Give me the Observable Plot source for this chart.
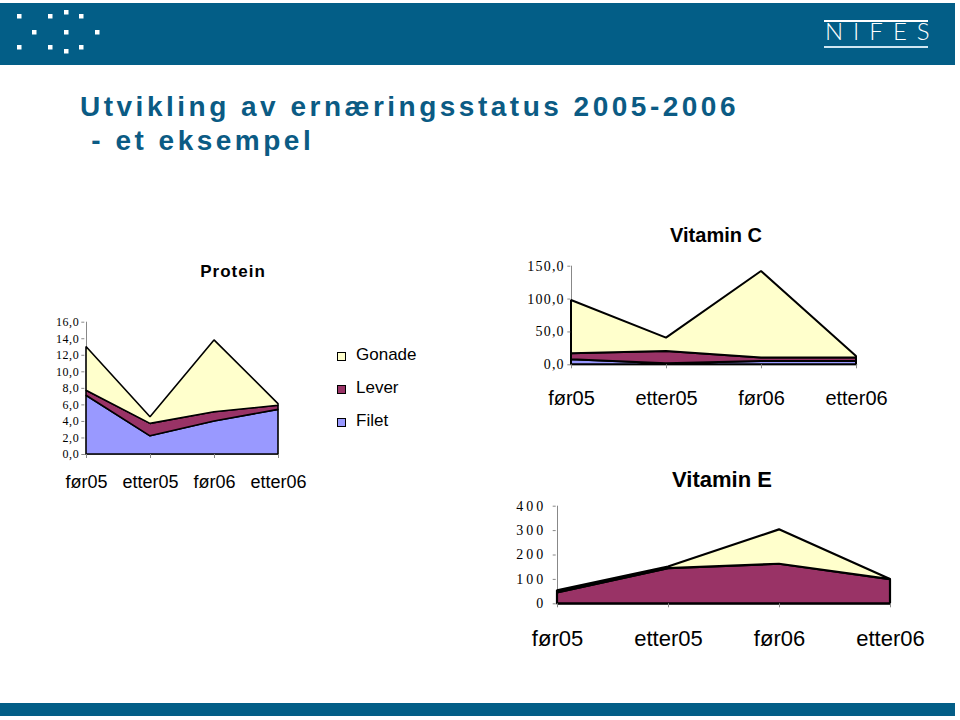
<!DOCTYPE html>
<html><head><meta charset="utf-8">
<script src="https://cdn.jsdelivr.net/npm/d3@7"></script>
<script src="https://cdn.jsdelivr.net/npm/@observablehq/plot@0.6"></script>
<style>
body{margin:0;background:#fff;}
#page{position:relative;width:960px;height:720px;overflow:hidden;font-family:"Liberation Sans",Arial,sans-serif;background:#fff;}
.abs{position:absolute;}
.bar{background:#035E87;}
.ctitle{position:absolute;width:200px;text-align:center;font-weight:bold;color:#000;white-space:nowrap;}
.leg{position:absolute;font-size:17px;line-height:17px;color:#000;}
.sw{position:absolute;width:7px;height:7px;border:1px solid #000;}
.chart{position:absolute;}
.chart svg{overflow:visible;}
#protein g[aria-label="y-axis tick label"] text{letter-spacing:0.6px;}
#vitc g[aria-label="y-axis tick label"] text{letter-spacing:1.2px;}
#vite g[aria-label="y-axis tick label"] text{letter-spacing:3px;}
</style></head><body>
<div id="page">
  <div class="abs bar" style="left:0;top:3px;width:955px;height:62px;"></div>
  <svg class="abs" style="left:0;top:0" width="120" height="66">
    <g fill="#fff">
      <rect x="17" y="14" width="4.5" height="4.5"/><rect x="48" y="14" width="4.5" height="4.5"/><rect x="64" y="10" width="4.5" height="4.5"/><rect x="79" y="14" width="4.5" height="4.5"/>
      <rect x="32" y="30" width="4.5" height="4.5"/><rect x="64" y="30" width="4.5" height="4.5"/><rect x="95" y="30" width="4.5" height="4.5"/>
      <rect x="17" y="45" width="4.5" height="4.5"/><rect x="48" y="45" width="4.5" height="4.5"/><rect x="64" y="49" width="4.5" height="4.5"/><rect x="79" y="45" width="4.5" height="4.5"/>
    </g>
  </svg>
  <div class="abs" style="left:824px;top:20px;width:104px;height:1.5px;background:#fff;"></div>
  <div class="abs" style="left:824px;top:46px;width:104px;height:1.5px;background:#cfe6f2;"></div>
  <div class="abs" style="left:825px;top:18.7px;font-family:Lato,'DejaVu Sans',sans-serif;font-weight:300;font-size:24px;line-height:24px;letter-spacing:10px;color:#fff;">NIFES</div>
  <div class="abs" style="left:80px;top:90px;font-weight:bold;font-size:28px;line-height:34px;letter-spacing:3.5px;color:#0B5B84;white-space:pre;">Utvikling av ernæringsstatus 2005-2006
 - et eksempel</div>

  <div class="ctitle" style="left:133px;top:262.6px;font-size:17px;line-height:17px;letter-spacing:1px;">Protein</div>
  <div class="ctitle" style="left:616px;top:225px;font-size:20px;line-height:20px;">Vitamin C</div>
  <div class="ctitle" style="left:622px;top:469.4px;font-size:22px;line-height:22px;">Vitamin E</div>

  <div id="legend"></div>
  <div class="chart" id="protein"></div>
  <div class="chart" id="vitc"></div>
  <div class="chart" id="vite"></div>

  <div class="abs bar" style="left:0;top:703px;width:955px;height:13px;"></div>
</div>
<script>
// ---- data ----
const categories = ["før05", "etter05", "før06", "etter06"];
const series = ["Filet", "Lever", "Gonade"];
const seriesColors = ["#9999FF", "#993366", "#FFFFCC"];
const legendOrder = ["Gonade", "Lever", "Filet"];

const proteinFilet  = [7.1, 2.2, 4.0, 5.4];
const proteinLever  = [0.6, 1.5, 1.1, 0.5];
const proteinGonade = [5.3, 0.8, 8.7, 0.2];
const proteinTicks  = [0, 2, 4, 6, 8, 10, 12, 14, 16];

const vitCFilet  = [7.6, 1.5, 5.0, 5.0];
const vitCLever  = [9.2, 18.8, 5.5, 5.5];
const vitCGonade = [81.0, 20.2, 131.5, 2.2];
const vitCTicks  = [0, 50, 100, 150];

const vitEFilet  = [0, 0, 0, 0];
const vitELever  = [45, 144, 162, 99];
const vitEGonade = [8, 7, 141, 1];
const vitETicks  = [0, 100, 200, 300, 400];

function rows(filet, lever, gonade) {
  const vals = {Filet: filet, Lever: lever, Gonade: gonade};
  const out = [];
  for (const s of series) categories.forEach((c, i) => out.push({cat: c, series: s, value: vals[s][i]}));
  return out;
}
const comma1 = d => d3.format(".1f")(d).replace(".", ",");

function chart(el, cfg) {
  const svg = Plot.plot({
    width: cfg.width, height: cfg.height,
    marginLeft: cfg.ml, marginRight: cfg.mr, marginTop: cfg.mt, marginBottom: cfg.mb,
    style: {background: "transparent", color: "#000"},
    x: {type: "point", domain: categories, padding: 0, label: null},
    y: {domain: cfg.yDomain, label: null},
    color: {domain: series, range: seriesColors},
    marks: [
      Plot.ruleY([0], {stroke: "#888", strokeWidth: 1}),
      Plot.ruleX([categories[0]], {stroke: "#888", strokeWidth: 1}),
      Plot.areaY(cfg.data, {x: "cat", y: "value", z: "series", fill: "series", order: series,
        stroke: "#000", strokeWidth: cfg.sw, strokeLinejoin: "miter"}),
      Plot.axisY({ticks: cfg.yTicks, tickSize: 3, tickPadding: cfg.yPad, tickFormat: cfg.yFormat,
        fontSize: cfg.yFont, fontFamily: "Liberation Serif", stroke: "#888", fill: "#000", label: null}),
      Plot.axisX({tickSize: 4, tickPadding: cfg.xPad, fontSize: cfg.xFont,
        fontFamily: "Liberation Sans", stroke: "#888", fill: "#000", label: null})
    ]
  });
  const host = document.getElementById(el);
  host.style.left = cfg.left + "px";
  host.style.top = cfg.top + "px";
  host.appendChild(svg);
}

chart("protein", {
  data: rows(proteinFilet, proteinLever, proteinGonade),
  left: 40, top: 310, width: 270, height: 190, ml: 44.3, mr: 31, mt: 11.7, mb: 46,
  yDomain: [0, 16], yTicks: proteinTicks, yFormat: comma1, yFont: 12, yPad: 2.5,
  xFont: 18, xPad: 17, sw: 1.6
});
chart("vitc", {
  data: rows(vitCFilet, vitCLever, vitCGonade),
  left: 500, top: 250, width: 380, height: 170, ml: 70.3, mr: 22.7, mt: 15.7, mb: 55.7,
  yDomain: [0, 150], yTicks: vitCTicks, yFormat: comma1, yFont: 14, yPad: 3,
  xFont: 20, xPad: 22, sw: 2
});
chart("vite", {
  data: rows(vitEFilet, vitELever, vitEGonade),
  left: 490, top: 490, width: 420, height: 170, ml: 65.7, mr: 19, mt: 15.7, mb: 56.7,
  yDomain: [0, 400], yTicks: vitETicks, yFormat: d => String(d), yFont: 14, yPad: 7,
  xFont: 22, xPad: 23, sw: 2.2
});

// legend
const legend = document.getElementById("legend");
const legendBaselines = [360, 393, 426];
legendOrder.forEach((s, i) => {
  const b = legendBaselines[i];
  const sw = document.createElement("div");
  sw.className = "sw";
  sw.style.left = "337px"; sw.style.top = (b - 8.5) + "px";
  sw.style.background = seriesColors[series.indexOf(s)];
  legend.appendChild(sw);
  const t = document.createElement("div");
  t.className = "leg";
  t.style.left = "356px"; t.style.top = (b - 14.4) + "px";
  t.textContent = s;
  legend.appendChild(t);
});
</script>
</body></html>
